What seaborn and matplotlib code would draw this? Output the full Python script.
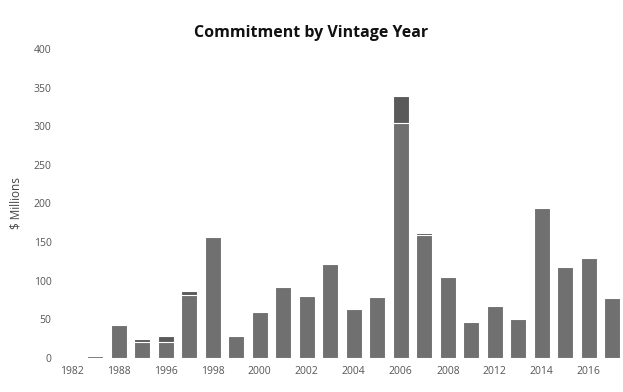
import matplotlib
matplotlib.use("Agg")
import matplotlib.pyplot as plt
import seaborn as sns
import pandas as pd

# Commitment by vintage year ($ millions), base commitment + additional commitment
years = ["1982", "1984", "1988", "1995", "1996", "1997", "1998", "1999",
         "2000", "2001", "2002", "2003", "2004", "2005", "2006", "2007",
         "2008", "2011", "2012", "2013", "2014", "2015", "2016", "2017"]
base = [1.5, 3, 43, 20, 21, 81, 156, 28, 59, 92, 80, 121,
        63, 79, 304, 159, 105, 47, 67, 51, 194, 118, 130, 77]
extra = [0, 0, 0, 4.5, 7, 6, 0, 0, 0, 0, 0, 0,
         0, 0, 35, 3, 0, 0, 0, 0, 0, 0, 0, 0]
tick_years = years[::2]

df = pd.DataFrame({"year": years, "base": base, "extra": extra})
df["total"] = df["base"] + df["extra"]

sns.set_style("white")
plt.rcParams['font.family'] = ['Open Sans', 'DejaVu Sans']

fig = plt.figure(figsize=(6.23, 3.92), dpi=100)
ax = fig.add_axes([0.096, 0.087, 0.902, 0.788])

# total first (darker top segment), base drawn over it
sns.barplot(data=df, x="year", y="total", color="#5a5a5a", width=0.68,
            saturation=1, edgecolor="white", linewidth=0.8, ax=ax)
sns.barplot(data=df, x="year", y="base", color="#707070", width=0.68,
            saturation=1, edgecolor="white", linewidth=0.8, ax=ax)

ax.set_ylim(0, 400)
ax.set_yticks(range(0, 401, 50))
ax.set_xlim(-0.5, 23.4)
ax.set_xticks(range(0, len(years), 2))
ax.set_xticklabels(tick_years)
ax.tick_params(axis="both", labelsize=7.5, colors="#555555", length=0, pad=6)
ax.set_xlabel("")
ax.set_ylabel("$ Millions", fontsize=8.5, color="#444444", labelpad=8)
sns.despine(ax=ax, left=True, bottom=True)

fig.text(0.5, 0.915, "Commitment by Vintage Year", ha="center", va="center",
         fontsize=11.5, fontweight="bold", color="#111111")

plt.savefig("out.png", dpi=100)
plt.close()
